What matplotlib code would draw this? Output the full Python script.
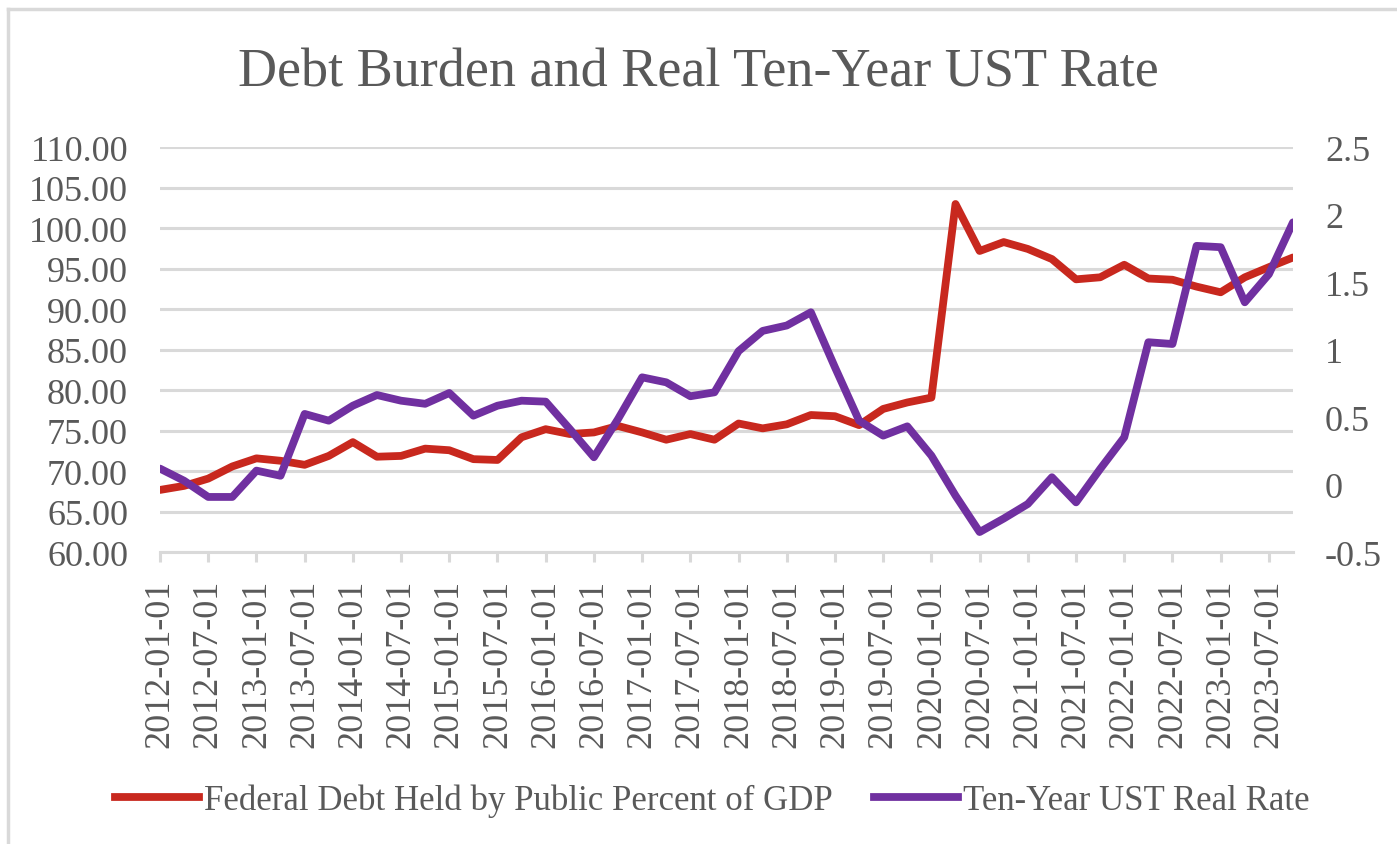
import matplotlib
matplotlib.use("Agg")
import matplotlib.pyplot as plt
from matplotlib.lines import Line2D
import numpy as np
import pandas as pd

plt.rcParams['font.family'] = ['Liberation Serif', 'DejaVu Serif']

# quarterly observations, 2012Q1 .. 2023Q4
dates = pd.date_range('2012-01-01', periods=48, freq='QS')
labels = [d.strftime('%Y-%m-%d') for d in dates]

debt_pct_gdp = [67.7, 68.2, 69.1, 70.6, 71.6, 71.3, 70.8, 71.9, 73.6, 71.8, 71.9, 72.8,
                72.6, 71.5, 71.4, 74.2, 75.2, 74.6, 74.8, 75.6, 74.8, 73.9, 74.6, 73.9,
                75.9, 75.3, 75.8, 76.95, 76.8, 75.7, 77.7, 78.5, 79.1, 103.0, 97.2, 98.3,
                97.45, 96.2, 93.7, 93.95, 95.5, 93.8, 93.65, 92.8, 92.1, 93.95, 95.2, 96.4]

real_rate = [0.12, 0.03, -0.09, -0.09, 0.105, 0.067, 0.525, 0.475, 0.586, 0.665, 0.623, 0.60,
             0.68, 0.512, 0.586, 0.623, 0.616, 0.413, 0.204, 0.487, 0.796, 0.759, 0.656, 0.685,
             0.99, 1.14, 1.18, 1.278, 0.87, 0.475, 0.364, 0.433, 0.216, -0.08, -0.35, -0.25,
             -0.142, 0.056, -0.13, 0.117, 0.352, 1.056, 1.043, 1.77, 1.76, 1.352, 1.56, 1.944]

debt_name = 'Federal Debt Held by Public Percent of GDP'
rate_name = 'Ten-Year UST Real Rate'

RED = '#C8281E'
PURPLE = '#7030A0'
TXT = '#595959'
GRID = '#D9D9D9'
LW = 5.6

W, H = 1397, 845
fig = plt.figure(figsize=(W / 100, H / 100), dpi=100)

# chart area border (top and left edges)
fig.add_artist(Line2D([8 / W, 8 / W], [0, 1 - 10 / H], color=GRID, lw=2.5))
fig.add_artist(Line2D([8 / W, 1], [1 - 10 / H, 1 - 10 / H], color=GRID, lw=2.5))

left, right = 160 / W, 1293 / W
bottom, top = 1 - 553.3 / H, 1 - 148.3 / H
ax = fig.add_axes([left, bottom, right - left, top - bottom])
ax2 = ax.twinx()

x = np.arange(len(dates))
ax.plot(x, debt_pct_gdp, color=RED, lw=LW, solid_joinstyle='round',
        solid_capstyle='round', label=debt_name, zorder=3)
ax2.plot(x, real_rate, color=PURPLE, lw=LW, solid_joinstyle='round',
         solid_capstyle='round', label=rate_name, zorder=3)

ax.set_xlim(0, len(dates) - 1)
ax.set_ylim(60, 110)
ax2.set_ylim(-0.5, 2.5)

ax.set_yticks(np.arange(60, 111, 5))
ax.set_yticklabels([f'{v:.2f}' for v in np.arange(60, 111, 5)])
ax2.set_yticks(np.arange(-0.5, 2.51, 0.5))
ax2.set_yticklabels(['-0.5', '0', '0.5', '1', '1.5', '2', '2.5'])

ax.set_xticks(x[::2])
ax.set_xticklabels(labels[::2], rotation=90)

ax.grid(axis='y', color=GRID, lw=2.2)
ax.set_axisbelow(True)

for a in (ax, ax2):
    for s in a.spines.values():
        s.set_visible(False)
ax.spines['bottom'].set_visible(True)
ax.spines['bottom'].set_color(GRID)
ax.spines['bottom'].set_linewidth(2.2)

ax.tick_params(axis='y', length=0, pad=23, labelsize=26, labelcolor=TXT)
ax2.tick_params(axis='y', length=0, pad=23, labelsize=26, labelcolor=TXT)
ax.tick_params(axis='x', length=7, width=2.2, color=GRID, pad=12,
               labelsize=26, labelcolor=TXT)

fig.text(0.5, 1 - 73 / H, 'Debt Burden and Real Ten-Year UST Rate',
         ha='center', va='center', fontsize=39, color=TXT)

handles = [Line2D([], [], color=RED, lw=LW), Line2D([], [], color=PURPLE, lw=LW)]
fig.legend(handles, [debt_name, rate_name], loc='center',
           bbox_to_anchor=(0.5 + 14 / W, 1 - 801 / H), ncol=2, frameon=False,
           fontsize=25, labelcolor=TXT, handlelength=2.4, handletextpad=0.15,
           columnspacing=1.2)

fig.savefig('out.png', dpi=100, facecolor='white')
